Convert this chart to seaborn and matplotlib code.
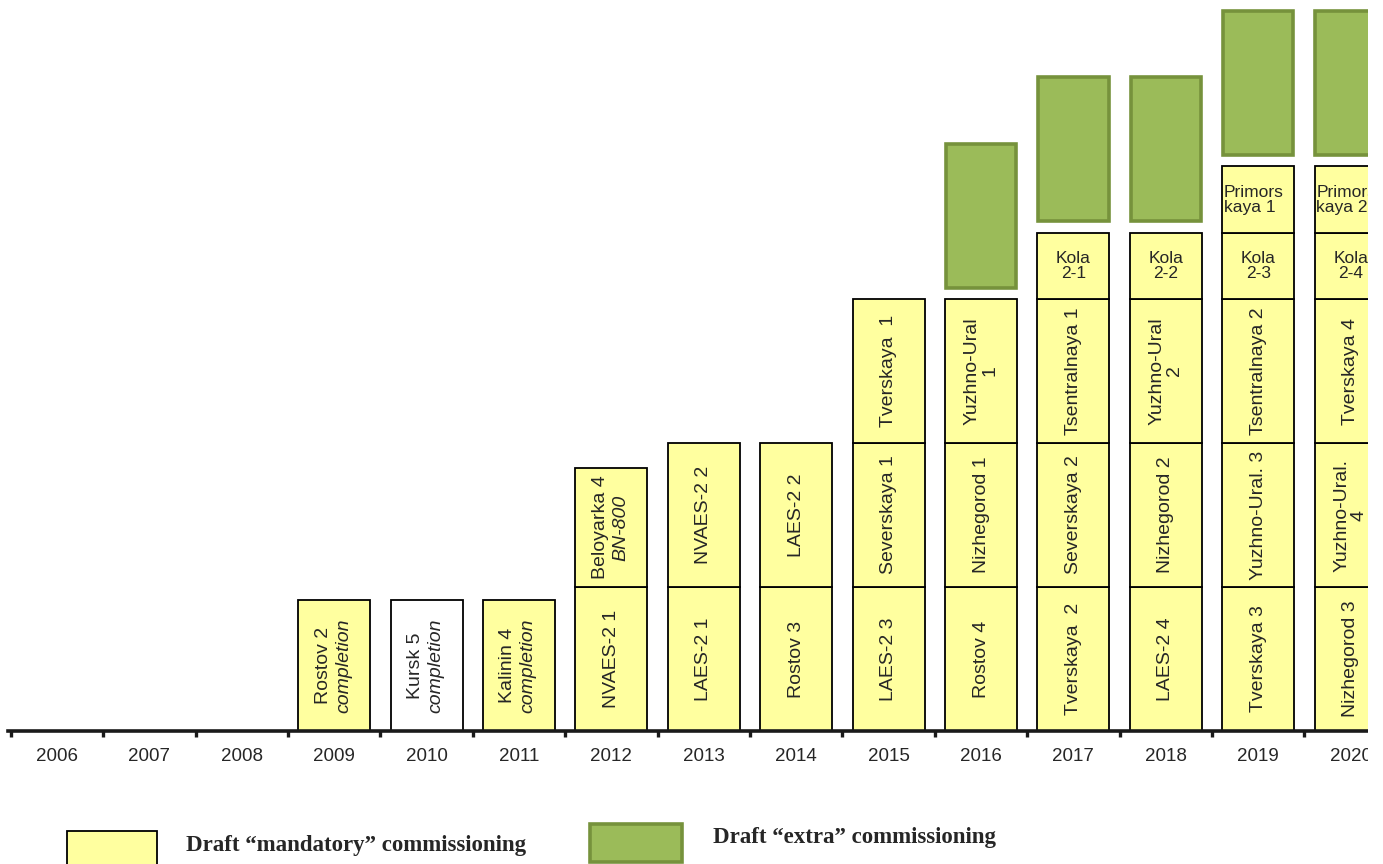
import matplotlib
matplotlib.use("Agg")
import matplotlib.pyplot as plt
import seaborn as sns
import numpy as np
from matplotlib.patches import Rectangle

# ---------------- data ----------------
years = ["2006", "2007", "2008", "2009", "2010", "2011", "2012", "2013",
         "2014", "2015", "2016", "2017", "2018", "2019", "2020"]

# mandatory commissioning, stacked bottom -> top ("|" = italic second line)
level1_units = ["", "", "", "Rostov 2|completion", "Kursk 5|completion",
                "Kalinin 4|completion", "NVAES-2 1", "LAES-2 1", "Rostov 3",
                "LAES-2 3", "Rostov 4", "Tverskaya  2", "LAES-2 4",
                "Tverskaya 3", "Nizhegorod 3"]
level1_gw = [0, 0, 0, 1.05, 1.05, 1.05, 1.15, 1.15, 1.15, 1.15, 1.15, 1.15,
             1.15, 1.15, 1.15]
level1_status = ["m", "m", "m", "m", "w", "m", "m", "m", "m", "m", "m", "m",
                 "m", "m", "m"]

level2_units = ["", "", "", "", "", "", "Beloyarka 4|BN-800", "NVAES-2 2",
                "LAES-2 2", "Severskaya 1", "Nizhegorod 1", "Severskaya 2",
                "Nizhegorod 2", "Yuzhno-Ural. 3", "Yuzhno-Ural.\n4"]
level2_gw = [0, 0, 0, 0, 0, 0, 0.95, 1.15, 1.15, 1.15, 1.15, 1.15, 1.15,
             1.15, 1.15]

level3_units = ["", "", "", "", "", "", "", "", "", "Tverskaya  1",
                "Yuzhno-Ural\n1", "Tsentralnaya 1", "Yuzhno-Ural\n2",
                "Tsentralnaya 2", "Tverskaya 4"]
level3_gw = [0, 0, 0, 0, 0, 0, 0, 0, 0, 1.15, 1.15, 1.15, 1.15, 1.15, 1.15]

level4_units = ["", "", "", "", "", "", "", "", "", "", "", "Kola\n2-1",
                "Kola\n2-2", "Kola\n2-3", "Kola\n2-4"]
level4_gw = [0, 0, 0, 0, 0, 0, 0, 0, 0, 0, 0, 0.53, 0.53, 0.53, 0.53]

level5_units = ["", "", "", "", "", "", "", "", "", "", "", "", "",
                "Primors\nkaya 1", "Primors\nkaya 2"]
level5_gw = [0, 0, 0, 0, 0, 0, 0, 0, 0, 0, 0, 0, 0, 0.53, 0.53]

# "extra" commissioning (on top of the mandatory stack)
extra_gw = [0, 0, 0, 0, 0, 0, 0, 0, 0, 0, 1.15, 1.15, 1.15, 1.15, 1.15]

legend_labels = ["Draft \u201cmandatory\u201d commissioning",
                 "Draft \u201cextra\u201d commissioning"]

# ---------------- style ----------------
YELLOW = "#FFFF9F"
WHITE = "#FFFFFF"
GREEN = "#9BBB59"
GREEN_EDGE = "#76923C"
BAR_W = 0.78
GAP = 0.09
ROT_FS = 14
HOR_FS = 12.5
SANS = ["Liberation Sans", "DejaVu Sans"]
SERIF = ["Liberation Serif", "DejaVu Serif"]

sns.set_style("white")
plt.rcParams["font.family"] = SANS

W, H = 1383, 864
fig = plt.figure(figsize=(W / 100, H / 100), dpi=100)
x_left_px, x_right_px, base_px = 0, 1368, 731
ax = fig.add_axes([x_left_px / W, (H - base_px) / H,
                   (x_right_px - x_left_px) / W, base_px / H])

px_per_year = 92.4
c0 = 57.0
XLIM = ((x_left_px - c0) / px_per_year, (x_right_px - c0) / px_per_year)
YLIM = (0, base_px / 125.2)

levels = [
    (level1_units, level1_gw, "rot"),
    (level2_units, level2_gw, "rot"),
    (level3_units, level3_gw, "rot"),
    (level4_units, level4_gw, "center"),
    (level5_units, level5_gw, "left"),
]

bottom = np.zeros(len(years))
for li, (units, vals, mode) in enumerate(levels):
    vals = np.asarray(vals, dtype=float)
    fills = level1_status if li == 0 else ["m"] * len(years)
    for status, col in (("m", YELLOW), ("w", WHITE)):
        idx = [i for i in range(len(years)) if vals[i] > 0 and fills[i] == status]
        if not idx:
            continue
        sns.barplot(x=[years[i] for i in idx], y=[vals[i] for i in idx],
                    order=years, color=col, saturation=1, width=BAR_W,
                    errorbar=None, bottom=[bottom[i] for i in idx],
                    edgecolor="black", linewidth=1.3, ax=ax, zorder=2)
    for i, lab in enumerate(units):
        if not lab or vals[i] <= 0:
            continue
        yc = bottom[i] + vals[i] / 2
        if mode == "rot":
            if "|" in lab:
                a, b = lab.split("|")
                ax.text(i - 0.12, yc, a, rotation=90, ha="center", va="center",
                        fontsize=ROT_FS, zorder=5)
                ax.text(i + 0.10, yc, b, rotation=90, ha="center", va="center",
                        fontsize=ROT_FS, style="italic", zorder=5)
            else:
                ax.text(i, yc, lab, rotation=90, ha="center", va="center",
                        fontsize=ROT_FS, multialignment="center",
                        linespacing=1.0, zorder=5)
        elif mode == "center":
            ax.text(i, yc, lab, ha="center", va="center", fontsize=HOR_FS,
                    multialignment="center", linespacing=1.0, zorder=5)
        else:
            ax.text(i - BAR_W / 2 + 0.02, yc, lab, ha="left", va="center",
                    fontsize=HOR_FS, multialignment="left", linespacing=1.0,
                    zorder=5)
    bottom = bottom + vals

# extra commissioning
extra = np.asarray(extra_gw, dtype=float)
idx = [i for i in range(len(years)) if extra[i] > 0]
sns.barplot(x=[years[i] for i in idx], y=[extra[i] for i in idx], order=years,
            color=GREEN, saturation=1, width=BAR_W - 0.02, errorbar=None,
            bottom=[bottom[i] + GAP for i in idx], edgecolor=GREEN_EDGE,
            linewidth=2.6, ax=ax, zorder=2)

# axis styling
for s in ("left", "right", "top"):
    ax.spines[s].set_visible(False)
ax.spines["bottom"].set_color("#1a1a1a")
ax.spines["bottom"].set_linewidth(2.6)
ax.set_yticks([])
ax.set_xticks(range(len(years)))
ax.set_xticklabels(years, fontsize=13.5)
ax.set_xticks(np.arange(len(years) + 1) - 0.5, minor=True)
ax.tick_params(axis="x", which="major", length=0, pad=12)
ax.tick_params(axis="x", which="minor", bottom=True, length=4.5, width=2.4,
               color="#1a1a1a", direction="out")
ax.set_xlabel("")
ax.set_ylabel("")
ax.set_xlim(*XLIM)
ax.set_ylim(*YLIM)
ax.spines["bottom"].set_bounds((8 - c0) / px_per_year, XLIM[1])

# legend (figure coordinates in pixels)
def fig_rect(x0, y0, x1, y1, fc, ec, lw):
    fig.add_artist(Rectangle((x0 / W, 1 - y1 / H), (x1 - x0) / W, (y1 - y0) / H,
                             transform=fig.transFigure, facecolor=fc,
                             edgecolor=ec, linewidth=lw))

fig_rect(67, 831, 157, 868, YELLOW, "black", 1.3)
fig.text(186 / W, 1 - 846 / H, legend_labels[0], ha="left", va="center",
         fontsize=16.5, fontweight="bold", family=SERIF)
fig_rect(590, 824, 682, 862, GREEN, GREEN_EDGE, 2.6)
fig.text(713 / W, 1 - 838 / H, legend_labels[1], ha="left", va="center",
         fontsize=16.5, fontweight="bold", family=SERIF)

# right-hand cut of the original picture
fig.add_artist(Rectangle((x_right_px / W, 0), (W - x_right_px) / W, 1,
                         transform=fig.transFigure, facecolor="white",
                         edgecolor="none", zorder=10))

fig.savefig("out.png", dpi=100)
